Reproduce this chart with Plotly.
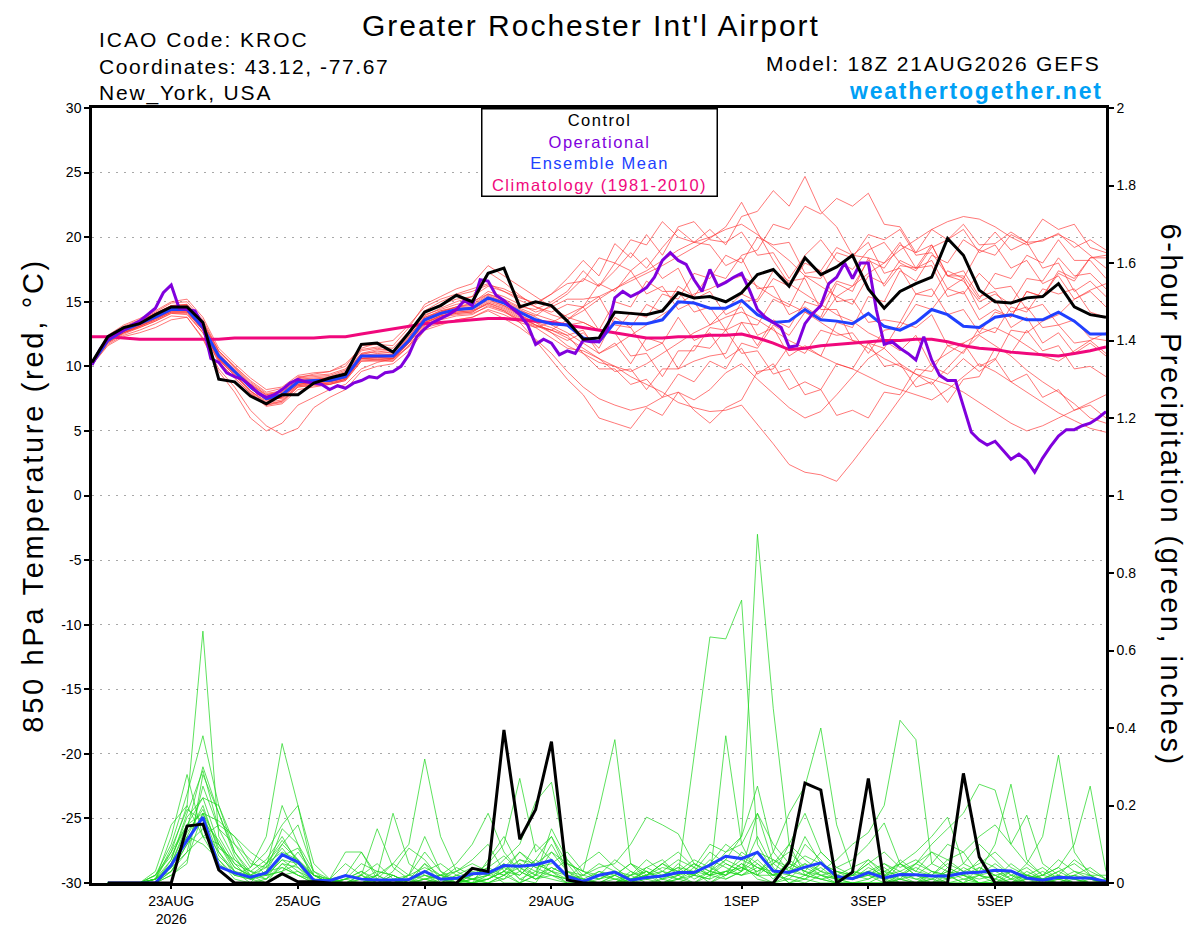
import pandas as pd
import plotly.graph_objects as go

# time axes: GEFS 6-hourly, operational GFS 3-hourly, precip valid at end of each 6h window
times_6h = pd.date_range('2026-08-21 18:00', periods=65, freq='6h')
times_3h = pd.date_range('2026-08-21 18:00', periods=129, freq='3h')
precip_times = times_6h[1:]

tick_dates = ['2026-08-23', '2026-08-25', '2026-08-27', '2026-08-29',
              '2026-09-01', '2026-09-03', '2026-09-05']
tick_labels = ['23AUG<br>2026', '25AUG', '27AUG', '29AUG', '1SEP', '3SEP', '5SEP']
temp_ticks = [30, 25, 20, 15, 10, 5, 0, -5, -10, -15, -20, -25, -30]

control_temp = [10.3, 12.3, 13.0, 13.3, 14.0, 14.6, 14.6, 13.4, 9.0, 8.8,
                7.7, 7.1, 7.8, 7.8, 8.7, 9.1, 9.4, 11.7, 11.8, 11.1,
                12.6, 14.2, 14.7, 15.5, 15.0, 17.2, 17.6, 14.6, 15.0, 14.7,
                13.5, 12.1, 12.2, 14.2, 14.1, 14.0, 14.3, 15.7, 15.3, 15.4,
                15.0, 15.7, 17.1, 17.5, 16.2, 18.4, 17.1, 17.7, 18.6, 16.0,
                14.5, 15.8, 16.4, 16.9, 19.9, 18.6, 15.9, 15.0, 14.9, 15.3,
                15.4, 16.4, 14.6, 14.0, 13.8]

mean_temp = [10.2, 12.0, 12.8, 13.3, 13.8, 14.4, 14.4, 13.0, 10.8, 9.6,
             8.4, 7.5, 7.8, 8.8, 8.9, 8.9, 9.2, 10.8, 10.8, 10.8,
             12.0, 13.6, 14.1, 14.4, 14.5, 15.3, 14.9, 14.2, 13.6, 13.3,
             13.2, 12.2, 11.9, 13.4, 13.3, 13.3, 13.6, 15.0, 14.9, 14.5,
             14.5, 15.1, 14.0, 13.4, 13.5, 14.4, 13.6, 13.5, 13.3, 14.1,
             13.1, 12.8, 13.4, 14.4, 14.0, 13.1, 13.0, 13.8, 14.0, 13.6,
             13.6, 14.2, 13.5, 12.5, 12.5]

oper_temp = [10.1, 11.3, 12.1, 12.5, 12.8, 13.2, 13.5, 14.0, 14.5, 15.7,
             16.3, 14.5, 14.4, 14.3, 13.2, 10.6, 10.3, 9.5, 9.2, 9.0,
             8.5, 7.9, 7.6, 7.8, 8.2, 8.7, 9.0, 8.8, 8.7, 8.6,
             8.2, 8.5, 8.3, 8.7, 8.9, 9.2, 9.1, 9.5, 9.6, 10.0,
             10.9, 12.3, 12.9, 13.4, 13.7, 14.0, 14.4, 15.1, 14.7, 16.7,
             16.6, 15.5, 15.1, 14.5, 14.0, 13.2, 11.7, 12.1, 11.8, 10.9,
             11.2, 11.0, 12.0, 11.9, 11.9, 12.8, 15.3, 15.8, 15.4, 15.7,
             16.1, 16.9, 18.2, 18.8, 18.2, 17.9, 16.7, 15.8, 17.5, 16.2,
             16.5, 16.9, 17.2, 15.9, 14.4, 13.8, 13.4, 13.0, 11.5, 11.6,
             13.3, 14.1, 14.7, 16.4, 16.9, 18.0, 16.8, 18.0, 18.0, 14.4,
             11.7, 11.9, 11.4, 11.0, 10.5, 12.3, 10.5, 9.3, 8.9, 8.9,
             6.9, 4.9, 4.3, 3.9, 4.2, 3.5, 2.8, 3.2, 2.7, 1.8,
             2.9, 3.8, 4.6, 5.1, 5.1, 5.4, 5.6, 6.0, 6.5]

clim_temp = [12.3, 12.3, 12.2, 12.1, 12.1, 12.1, 12.1, 12.1, 12.1, 12.2,
             12.2, 12.2, 12.2, 12.2, 12.2, 12.3, 12.3, 12.5, 12.7, 12.9,
             13.1, 13.3, 13.4, 13.5, 13.6, 13.7, 13.7, 13.6, 13.5, 13.4,
             13.2, 13.0, 12.8, 12.6, 12.4, 12.2, 12.2, 12.3, 12.3, 12.4,
             12.4, 12.5, 12.2, 11.8, 11.3, 11.4, 11.6, 11.7, 11.8, 11.9,
             12.0, 12.0, 12.1, 12.1, 11.9, 11.6, 11.4, 11.3, 11.1, 11.0,
             10.9, 10.8, 11.0, 11.2, 11.5]

ens_temp = [
    [10.4, 12.3, 13.1, 13.6, 14.2, 14.9, 15.0, 13.6, 11.2, 10.0, 8.9, 8.0, 8.3, 9.1, 9.4, 9.6, 10.2, 11.4, 11.8, 12.0,
     13.2, 14.6, 15.2, 15.6, 16.0, 16.4, 15.8, 15.3, 14.9, 15.6, 16.8, 18.2, 17.0, 19.5, 18.4, 20.2, 18.6, 20.8, 21.2, 19.8,
     19.6, 20.4, 18.6, 18.8, 16.8, 18.6, 19.8, 18.2, 17.5, 19.0, 19.6, 18.0, 17.4, 19.2, 19.8, 21.0, 19.4, 19.5, 20.4, 19.6,
     19.7, 20.3, 19.2, 19.8, 19.0],
    [10.1, 11.6, 12.3, 12.6, 13.0, 13.6, 13.8, 12.1, 9.6, 8.0, 6.0, 5.0, 5.6, 7.0, 7.6, 8.2, 8.6, 9.8, 10.3, 10.6,
     11.5, 13.0, 13.3, 13.6, 13.8, 14.3, 13.7, 13.0, 12.1, 11.0, 9.6, 8.4, 7.5, 7.0, 6.6, 6.9, 7.6, 8.0, 7.4, 8.2,
     9.5, 10.2, 9.0, 7.9, 6.8, 6.0, 6.5, 7.8, 9.2, 10.6, 11.4, 10.2, 9.4, 8.6, 9.9, 11.2, 12.4, 11.6, 10.8, 9.7,
     8.8, 8.0, 7.1, 6.0, 5.6],
    [10.3, 12.1, 12.9, 13.4, 14.0, 14.6, 14.7, 13.3, 11.0, 9.7, 8.5, 7.6, 7.5, 8.6, 8.8, 9.0, 9.4, 10.9, 11.2, 11.0,
     12.3, 13.9, 14.5, 15.0, 15.4, 17.3, 16.5, 15.5, 14.6, 14.0, 13.6, 14.3, 15.2, 16.0, 16.6, 17.2, 17.8, 18.5, 19.2, 19.9,
     20.8, 22.7, 20.4, 18.2, 16.4, 15.6, 14.8, 14.0, 13.5, 12.6, 12.0, 11.2, 12.4, 10.0, 9.4, 10.6, 9.6, 10.5, 12.8, 12.6,
     13.5, 14.0, 15.2, 15.9, 16.4],
    [10.2, 11.8, 12.6, 13.1, 13.6, 14.2, 14.2, 12.8, 10.5, 9.3, 8.0, 7.0, 7.3, 8.5, 8.7, 8.6, 9.0, 10.6, 10.5, 10.4,
     11.6, 13.2, 13.8, 14.2, 14.3, 15.0, 14.6, 13.9, 13.4, 13.0, 12.4, 11.0, 10.3, 10.0, 9.2, 8.6, 8.0, 7.2, 6.8, 6.5,
     6.6, 7.0, 5.5, 4.0, 2.4, 1.8, 1.6, 1.1, 2.6, 4.2, 5.8, 7.5, 9.0, 10.2, 11.0, 11.8, 12.5, 13.0, 12.4, 11.6,
     10.8, 10.4, 11.2, 12.0, 12.6],
    [10.3, 12.0, 12.7, 13.2, 13.9, 14.5, 14.6, 13.0, 10.9, 9.8, 8.6, 7.8, 8.0, 9.0, 9.1, 9.2, 9.6, 11.0, 11.3, 11.2,
     12.5, 14.0, 14.4, 14.8, 15.0, 15.6, 15.2, 14.6, 14.4, 15.0, 15.8, 17.4, 16.2, 17.4, 18.8, 17.6, 19.2, 20.6, 19.6, 20.6,
     19.4, 21.6, 22.0, 23.6, 22.4, 24.7, 22.0, 20.8, 18.6, 18.4, 16.2, 17.8, 17.6, 19.4, 17.0, 16.6, 15.0, 15.6, 14.8, 16.8,
     16.6, 18.4, 17.0, 17.2, 16.0],
    [10.2, 12.0, 12.8, 13.3, 13.9, 14.4, 14.5, 13.1, 10.6, 9.4, 8.1, 7.3, 7.6, 8.6, 8.7, 8.8, 9.1, 10.6, 10.7, 10.6,
     11.9, 13.5, 14.0, 14.3, 14.5, 15.2, 14.7, 14.0, 13.2, 12.6, 12.0, 12.6, 11.4, 13.8, 13.0, 14.8, 14.2, 16.2, 15.4, 17.2,
     16.8, 18.6, 19.0, 21.0, 20.6, 22.4, 21.8, 23.0, 22.4, 23.4, 21.0, 20.8, 18.8, 19.4, 17.0, 17.0, 15.2, 17.2, 16.8, 18.6,
     18.0, 19.8, 18.2, 18.2, 16.8],
    [10.1, 11.9, 12.6, 13.0, 13.5, 14.1, 14.0, 12.6, 10.4, 9.1, 7.9, 6.9, 7.1, 8.2, 8.4, 8.6, 8.9, 10.4, 10.5, 10.5,
     11.8, 13.3, 13.9, 14.2, 14.3, 14.8, 14.3, 13.4, 12.0, 10.5, 9.0, 7.8, 6.0, 5.6, 5.2, 6.8, 6.2, 8.0, 6.6, 5.6,
     6.8, 7.4, 9.6, 9.8, 11.6, 11.0, 12.8, 12.4, 12.6, 11.0, 12.8, 13.0, 14.8, 14.4, 16.0, 15.6, 17.2, 16.0, 16.2, 14.4,
     14.8, 13.2, 13.6, 12.2, 12.0],
    [10.4, 12.2, 13.0, 13.5, 14.1, 14.7, 14.8, 13.4, 11.2, 10.0, 8.8, 7.9, 8.1, 9.2, 9.3, 9.4, 9.8, 11.3, 11.5, 11.4,
     12.7, 14.3, 15.0, 15.5, 15.8, 16.3, 16.0, 15.4, 14.8, 15.6, 16.4, 16.6, 18.4, 18.0, 19.8, 19.4, 21.2, 20.0, 19.6, 19.4,
     17.8, 18.4, 16.0, 16.2, 14.0, 14.6, 13.8, 16.4, 15.8, 18.4, 18.0, 19.6, 17.6, 17.8, 15.4, 15.8, 13.6, 14.4, 13.8, 15.8,
     15.4, 17.4, 16.8, 18.4, 18.6],
    [10.2, 11.9, 12.7, 13.1, 13.7, 14.2, 14.2, 12.8, 10.6, 9.4, 8.1, 7.1, 7.3, 8.4, 8.6, 8.7, 9.0, 10.5, 10.5, 10.6,
     11.8, 13.4, 13.8, 14.0, 14.1, 14.6, 14.2, 13.6, 13.1, 12.8, 13.6, 14.6, 12.8, 12.6, 10.8, 11.0, 9.2, 11.2, 11.2, 13.0,
     12.8, 15.0, 15.2, 17.4, 16.6, 16.8, 14.4, 14.4, 12.0, 11.8, 10.0, 10.2, 8.4, 8.8, 7.2, 9.0, 9.2, 11.4, 11.0, 12.8,
     11.2, 11.6, 9.8, 10.0, 9.2],
    [10.3, 12.1, 12.9, 13.5, 14.1, 14.7, 14.7, 13.2, 10.9, 9.6, 8.3, 7.4, 7.6, 8.8, 8.9, 9.0, 9.3, 10.8, 10.9, 10.9,
     12.1, 13.8, 14.2, 14.6, 14.7, 15.5, 15.0, 14.4, 13.8, 13.2, 12.6, 11.8, 11.0, 11.6, 12.4, 13.2, 14.0, 14.8, 15.6, 16.0,
     16.6, 17.0, 16.2, 15.4, 14.8, 14.2, 13.4, 12.6, 12.0, 11.4, 10.6, 10.0, 9.4, 9.0, 8.6, 8.0, 7.2, 6.4, 5.6, 5.0,
     5.4, 6.0, 6.6, 7.2, 7.8],
    [10.2, 12.0, 12.8, 13.3, 13.8, 14.3, 14.3, 12.9, 10.7, 9.5, 8.4, 7.5, 7.8, 8.8, 8.9, 9.0, 9.3, 10.9, 10.8, 10.9,
     12.0, 13.6, 14.2, 14.6, 14.9, 15.8, 15.4, 14.8, 14.2, 14.6, 15.2, 15.2, 15.4, 13.2, 13.0, 11.2, 11.8, 9.8, 10.4, 10.8,
     11.0, 13.4, 13.2, 15.2, 14.6, 17.0, 16.8, 18.8, 18.4, 20.2, 19.8, 20.6, 18.6, 18.8, 17.0, 17.4, 15.4, 15.8, 14.2, 14.6,
     13.0, 13.2, 11.8, 12.0, 11.0],
    [10.1, 11.7, 12.4, 12.8, 13.3, 13.9, 13.8, 12.2, 9.8, 8.4, 6.6, 5.4, 4.7, 5.2, 6.8, 7.6, 8.2, 9.6, 10.0, 10.2,
     11.2, 12.8, 13.2, 13.6, 13.8, 14.4, 14.0, 13.4, 13.0, 13.4, 14.0, 14.6, 15.4, 16.0, 16.8, 17.4, 18.2, 19.0, 19.6, 20.0,
     20.6, 21.0, 20.2, 19.2, 18.2, 17.0, 16.2, 15.4, 16.2, 17.2, 18.0, 19.0, 19.8, 20.6, 21.2, 21.6, 21.4, 20.8, 20.0, 19.4,
     19.8, 20.2, 19.6, 18.6, 17.6],
    [10.4, 12.4, 13.2, 13.7, 14.3, 15.0, 15.2, 13.8, 11.4, 10.2, 9.1, 8.2, 8.4, 9.3, 9.5, 9.6, 10.0, 11.6, 11.7, 11.6,
     13.0, 14.8, 15.4, 16.0, 16.4, 17.8, 17.0, 16.2, 15.4, 14.6, 13.8, 13.4, 12.8, 12.6, 14.2, 13.8, 15.6, 15.2, 17.2, 16.8,
     18.6, 18.0, 20.0, 19.4, 19.6, 17.2, 17.4, 15.0, 15.2, 13.4, 13.6, 13.4, 15.6, 15.4, 17.4, 16.8, 19.0, 18.6, 20.2, 19.6,
     21.4, 20.6, 21.0, 19.2, 18.8],
    [10.2, 11.9, 12.6, 13.1, 13.7, 14.3, 14.3, 12.9, 10.7, 9.5, 8.3, 7.4, 7.6, 8.6, 8.8, 8.8, 9.1, 10.6, 10.7, 10.6,
     11.9, 13.4, 13.9, 14.1, 14.2, 14.9, 14.5, 13.8, 13.2, 12.8, 12.2, 11.4, 10.6, 10.0, 9.6, 10.2, 11.0, 11.8, 12.6, 13.2,
     13.8, 14.2, 13.6, 12.8, 12.0, 11.4, 10.8, 10.2, 9.8, 9.2, 8.6, 8.2, 7.8, 7.4, 8.2, 9.2, 10.2, 9.6, 8.8, 8.0,
     7.2, 6.4, 5.8, 5.2, 4.9],
    [10.3, 12.1, 12.8, 13.3, 13.9, 14.5, 14.4, 13.0, 10.8, 9.6, 8.5, 7.6, 7.9, 8.9, 9.0, 9.1, 9.4, 10.8, 11.0, 10.9,
     12.2, 13.7, 14.3, 14.5, 14.6, 15.4, 15.0, 14.3, 13.9, 14.8, 15.6, 16.8, 16.2, 18.0, 17.4, 18.4, 16.8, 17.6, 15.2, 15.8,
     14.0, 14.6, 12.4, 13.0, 10.8, 11.6, 10.8, 13.4, 13.0, 15.4, 15.0, 17.4, 16.6, 18.6, 18.0, 19.8, 19.0, 20.4, 19.0, 19.6,
     17.6, 18.0, 15.8, 16.6, 15.4],
    [10.2, 11.9, 12.7, 13.2, 13.7, 14.3, 14.3, 12.9, 10.6, 9.5, 8.3, 7.4, 7.7, 8.7, 8.8, 8.8, 9.1, 10.7, 10.7, 10.7,
     11.9, 13.5, 14.0, 14.3, 14.4, 15.1, 14.7, 14.0, 13.4, 12.6, 11.6, 11.0, 9.8, 9.8, 8.6, 9.0, 7.6, 9.4, 8.8, 10.4,
     9.8, 11.8, 11.4, 13.2, 12.4, 14.2, 13.6, 15.4, 14.8, 17.0, 16.4, 18.2, 17.6, 18.2, 16.0, 16.8, 14.4, 15.2, 13.0, 13.8,
     11.8, 12.6, 11.0, 11.8, 10.8],
    [10.3, 12.0, 12.8, 13.4, 13.9, 14.5, 14.6, 13.1, 10.9, 9.7, 8.6, 7.7, 8.0, 9.0, 9.0, 9.1, 9.5, 11.0, 11.1, 11.1,
     12.3, 13.8, 14.3, 14.6, 14.8, 15.6, 15.1, 14.5, 14.0, 13.6, 13.2, 13.4, 12.8, 15.0, 14.6, 16.6, 15.8, 15.8, 14.2, 14.6,
     12.8, 13.4, 11.6, 13.6, 13.0, 15.0, 14.6, 16.6, 16.2, 18.2, 17.6, 19.4, 18.8, 20.6, 19.8, 20.6, 18.8, 19.4, 17.6, 18.2,
     16.4, 17.0, 15.2, 15.8, 14.6],
    [10.2, 11.8, 12.5, 13.0, 13.5, 14.1, 14.1, 12.6, 10.3, 9.1, 7.9, 7.0, 7.2, 8.4, 8.5, 8.6, 8.9, 10.4, 10.4, 10.4,
     11.6, 13.1, 13.6, 13.9, 14.0, 14.7, 14.3, 13.6, 13.0, 12.2, 11.4, 11.2, 10.6, 9.6, 9.8, 8.2, 9.8, 9.8, 11.6, 11.4,
     12.8, 11.0, 11.2, 9.4, 9.8, 7.8, 8.2, 6.2, 6.6, 6.0, 8.0, 7.8, 9.8, 9.6, 11.6, 11.0, 13.0, 12.6, 14.6, 14.2,
     16.0, 15.6, 16.0, 14.2, 13.8],
    [10.4, 12.2, 13.0, 13.5, 14.1, 14.7, 14.8, 13.4, 11.1, 9.9, 8.7, 7.8, 8.1, 9.1, 9.2, 9.3, 9.7, 11.2, 11.4, 11.2,
     12.6, 14.2, 14.8, 15.2, 15.4, 16.2, 15.8, 15.1, 14.6, 14.2, 14.8, 14.6, 16.4, 15.8, 17.4, 15.6, 16.2, 14.4, 15.0, 13.2,
     14.4, 15.6, 15.0, 16.8, 16.2, 18.0, 17.4, 19.2, 18.6, 19.6, 17.2, 17.6, 15.6, 16.0, 14.0, 14.4, 12.6, 14.2, 13.8, 15.8,
     15.4, 17.2, 16.6, 18.4, 18.4],
    [10.2, 11.9, 12.6, 13.1, 13.6, 14.2, 14.2, 12.8, 10.5, 9.3, 8.1, 7.2, 7.4, 8.5, 8.6, 8.7, 9.0, 10.6, 10.6, 10.6,
     11.8, 13.4, 13.9, 14.1, 14.2, 14.9, 14.4, 13.7, 13.2, 12.8, 12.4, 12.8, 11.0, 11.8, 10.2, 12.2, 11.8, 13.8, 12.0, 12.6,
     10.6, 11.4, 9.4, 10.2, 8.2, 8.8, 8.2, 10.2, 9.8, 11.8, 11.4, 13.4, 13.0, 14.0, 11.6, 11.8, 10.0, 10.6, 8.8, 9.4,
     7.6, 8.2, 6.6, 7.0, 6.0],
]

control_precip = [0, 0, 0, 0, 0, 0.147, 0.152, 0.034,
                  0, 0, 0, 0.024, 0.003, 0.003, 0, 0,
                  0, 0, 0, 0, 0, 0, 0, 0.038,
                  0.03, 0.395, 0.113, 0.19, 0.365, 0.008, 0, 0,
                  0, 0, 0, 0, 0, 0, 0, 0,
                  0, 0, 0, 0.054, 0.258, 0.24, 0, 0.028,
                  0.27, 0, 0, 0, 0, 0, 0.283, 0.067,
                  0, 0, 0, 0, 0, 0, 0, 0]

mean_precip = [0, 0, 0, 0, 0.046, 0.11, 0.17, 0.042,
               0.026, 0.015, 0.026, 0.073, 0.054, 0.007, 0.006, 0.019,
               0.01, 0.008, 0.008, 0.009, 0.03, 0.01, 0.012, 0.024,
               0.026, 0.045, 0.043, 0.047, 0.058, 0.017, 0.004, 0.02,
               0.028, 0.007, 0.014, 0.018, 0.027, 0.027, 0.046, 0.069,
               0.063, 0.079, 0.031, 0.027, 0.041, 0.052, 0.017, 0.011,
               0.027, 0.013, 0.022, 0.021, 0.018, 0.018, 0.026, 0.028,
               0.033, 0.031, 0.013, 0.007, 0.015, 0.013, 0.013, 0.004]

ens_precip = [
    [0, 0, 0, 0.01, 0.08, 0.2, 0.65, 0.12, 0.05, 0.01, 0, 0.02, 0.03, 0, 0, 0,
     0, 0, 0.02, 0, 0.01, 0, 0, 0.03, 0.02, 0.05, 0.01, 0, 0.06, 0.02, 0, 0,
     0, 0.01, 0.03, 0, 0, 0.02, 0.05, 0.01, 0.03, 0.12, 0.04, 0, 0.02, 0.01, 0, 0,
     0.01, 0.03, 0, 0, 0.02, 0, 0, 0.04, 0.02, 0, 0, 0, 0.01, 0, 0, 0],
    [0, 0, 0, 0.02, 0.1, 0.23, 0.38, 0.2, 0.1, 0.04, 0.12, 0.36, 0.2, 0.02, 0, 0.01,
     0, 0, 0, 0, 0, 0.02, 0.01, 0, 0, 0.02, 0, 0.05, 0.03, 0, 0, 0.01,
     0.02, 0, 0, 0.01, 0, 0, 0.03, 0.08, 0.1, 0.02, 0, 0.01, 0, 0.02, 0, 0,
     0, 0, 0.05, 0.02, 0, 0, 0.01, 0, 0, 0.03, 0, 0, 0, 0.02, 0.01, 0],
    [0, 0, 0, 0, 0.06, 0.18, 0.29, 0.14, 0.06, 0.02, 0, 0.05, 0.04, 0, 0, 0,
     0.02, 0, 0, 0, 0, 0, 0, 0.01, 0.03, 0, 0, 0.02, 0.01, 0, 0, 0,
     0, 0, 0.02, 0.05, 0.02, 0.33, 0.635, 0.63, 0.73, 0.1, 0.03, 0, 0.01, 0, 0, 0,
     0, 0.02, 0, 0, 0.01, 0, 0, 0.02, 0, 0, 0, 0.01, 0, 0, 0, 0],
    [0, 0, 0, 0.01, 0.05, 0.15, 0.22, 0.1, 0.03, 0, 0.05, 0.08, 0.06, 0.01, 0, 0.02,
     0.08, 0.02, 0, 0, 0.03, 0.01, 0, 0, 0.01, 0.03, 0.08, 0.04, 0.02, 0, 0, 0,
     0, 0.02, 0, 0, 0.01, 0.04, 0.1, 0.08, 0.12, 0.9, 0.45, 0.1, 0.02, 0.04, 0.01, 0,
     0, 0, 0.01, 0, 0, 0.02, 0, 0, 0, 0, 0.01, 0, 0, 0, 0, 0],
    [0, 0, 0, 0.01, 0.04, 0.12, 0.2, 0.08, 0.02, 0.01, 0.03, 0.1, 0.15, 0.03, 0.01, 0,
     0, 0.01, 0.05, 0.1, 0.32, 0.12, 0.03, 0.01, 0, 0.02, 0.04, 0.01, 0.03, 0.06, 0.01, 0,
     0.01, 0, 0.04, 0.06, 0.02, 0, 0, 0.03, 0.02, 0.05, 0.01, 0.06, 0.03, 0.01, 0, 0.02,
     0.05, 0.01, 0, 0, 0, 0.01, 0.03, 0, 0, 0.01, 0, 0, 0.02, 0, 0, 0],
    [0, 0, 0, 0, 0.03, 0.1, 0.18, 0.16, 0.12, 0.05, 0.04, 0.2, 0.1, 0, 0, 0,
     0, 0, 0.02, 0, 0, 0.01, 0.04, 0.02, 0.05, 0.1, 0.27, 0.08, 0.12, 0.05, 0.03, 0.19,
     0.37, 0.05, 0.02, 0, 0.01, 0.03, 0, 0.02, 0.05, 0.01, 0, 0.02, 0.1, 0.06, 0.01, 0,
     0, 0, 0.02, 0.01, 0, 0.04, 0.02, 0, 0, 0, 0.02, 0.01, 0, 0, 0, 0],
    [0, 0, 0, 0.02, 0.08, 0.15, 0.15, 0.06, 0.01, 0, 0.01, 0.04, 0.02, 0, 0, 0.01,
     0.03, 0, 0, 0, 0.05, 0, 0, 0, 0.02, 0.06, 0.1, 0.21, 0.26, 0.05, 0, 0,
     0.02, 0.05, 0.01, 0.02, 0.04, 0.01, 0.03, 0.06, 0.04, 0.02, 0.08, 0.18, 0.25, 0.4, 0.15, 0.03,
     0.02, 0, 0.01, 0, 0.03, 0.02, 0, 0, 0, 0.02, 0, 0, 0, 0, 0.01, 0],
    [0, 0, 0, 0.01, 0.12, 0.28, 0.12, 0.05, 0.02, 0.01, 0.02, 0.06, 0.03, 0.01, 0, 0,
     0, 0.02, 0, 0.01, 0, 0, 0.02, 0.01, 0.01, 0.03, 0, 0.02, 0.04, 0.02, 0, 0.03,
     0.01, 0.02, 0.06, 0.03, 0.01, 0, 0.02, 0.05, 0.03, 0.06, 0.02, 0.01, 0.05, 0.03, 0.06, 0.1,
     0.13, 0.2, 0.42, 0.37, 0.05, 0.1, 0.08, 0.02, 0.01, 0, 0.03, 0.01, 0, 0.01, 0, 0],
    [0, 0, 0, 0.03, 0.15, 0.2, 0.12, 0.1, 0.05, 0.03, 0.06, 0.12, 0.05, 0, 0.01, 0.02,
     0.01, 0, 0, 0.02, 0.12, 0.03, 0, 0.02, 0.04, 0.02, 0.05, 0.03, 0.1, 0.03, 0, 0,
     0, 0.02, 0.03, 0.01, 0.05, 0.02, 0.01, 0.38, 0.1, 0.18, 0.05, 0.02, 0.01, 0.03, 0.02, 0.01,
     0.03, 0.05, 0.02, 0, 0.01, 0.03, 0.02, 0.06, 0.04, 0.01, 0.05, 0.12, 0.33, 0.08, 0.02, 0],
    [0, 0, 0, 0, 0.05, 0.14, 0.3, 0.18, 0.08, 0.02, 0.01, 0.05, 0.02, 0, 0, 0,
     0, 0.02, 0.18, 0.05, 0.02, 0, 0.01, 0, 0.01, 0.04, 0.02, 0.06, 0.03, 0.01, 0.02, 0.05,
     0.03, 0.01, 0.02, 0.04, 0.03, 0.02, 0.01, 0.03, 0.02, 0.04, 0.03, 0.02, 0.01, 0.05, 0.02, 0.01,
     0.04, 0.02, 0.01, 0.05, 0.1, 0.14, 0.18, 0.255, 0.24, 0.1, 0.05, 0.02, 0.04, 0.1, 0.25, 0.03],
    [0, 0, 0, 0.01, 0.04, 0.08, 0.25, 0.14, 0.1, 0.06, 0.02, 0.03, 0.08, 0.02, 0, 0.01,
     0.02, 0.14, 0.04, 0.01, 0.02, 0.01, 0, 0.01, 0.02, 0.01, 0.03, 0.01, 0.02, 0.01, 0, 0,
     0, 0.01, 0.02, 0.05, 0.03, 0.06, 0.04, 0.02, 0.05, 0.03, 0.06, 0.04, 0.02, 0.05, 0.03, 0.02,
     0.06, 0.03, 0.05, 0.08, 0.12, 0.17, 0.05, 0.03, 0.1, 0.255, 0.06, 0.02, 0.01, 0, 0, 0],
    [0, 0, 0, 0, 0.02, 0.06, 0.18, 0.1, 0.04, 0.02, 0.02, 0.06, 0.05, 0.02, 0.01, 0.08,
     0.08, 0.01, 0, 0.02, 0.04, 0.02, 0.05, 0.1, 0.18, 0.08, 0.03, 0.01, 0.04, 0.02, 0.01, 0,
     0.02, 0, 0.01, 0.03, 0.02, 0.05, 0.03, 0.02, 0.04, 0.02, 0.05, 0.1, 0.18, 0.08, 0.04, 0.06,
     0.1, 0.155, 0.05, 0.02, 0.01, 0.03, 0.02, 0, 0.01, 0.03, 0.02, 0, 0.01, 0.02, 0, 0],
    [0, 0, 0, 0.01, 0.03, 0.1, 0.14, 0.08, 0.03, 0.01, 0.03, 0.04, 0.02, 0.01, 0, 0,
     0.01, 0.03, 0.02, 0, 0.01, 0.02, 0.03, 0.05, 0.03, 0.02, 0.06, 0.05, 0.08, 0.03, 0.02, 0.04,
     0.05, 0.1, 0.17, 0.15, 0.127, 0.05, 0.02, 0.03, 0.06, 0.04, 0.02, 0.03, 0.05, 0.02, 0.01, 0.02,
     0.03, 0.01, 0.02, 0.04, 0.02, 0.06, 0.08, 0.12, 0.15, 0.1, 0.175, 0.05, 0.02, 0.01, 0.02, 0],
    [0, 0, 0, 0, 0.05, 0.12, 0.1, 0.06, 0.02, 0.04, 0.08, 0.15, 0.2, 0.05, 0.01, 0,
     0, 0.01, 0, 0.01, 0.03, 0.05, 0.02, 0.01, 0, 0.01, 0.05, 0.02, 0.14, 0.06, 0.02, 0.01,
     0.03, 0.02, 0.04, 0.02, 0.01, 0.02, 0.05, 0.1, 0.07, 0.04, 0.02, 0.05, 0.03, 0.02, 0.03, 0.01,
     0.02, 0.05, 0.03, 0.01, 0.02, 0.01, 0.04, 0.02, 0.01, 0.05, 0.02, 0.01, 0.03, 0.01, 0, 0.01],
    [0, 0, 0, 0.01, 0.06, 0.17, 0.22, 0.2, 0.08, 0.03, 0.02, 0.03, 0.05, 0.01, 0.01, 0.05,
     0.02, 0, 0.01, 0.02, 0.08, 0.03, 0.01, 0, 0.06, 0.12, 0.04, 0.02, 0.08, 0.05, 0.03, 0.02,
     0.06, 0.03, 0.01, 0.02, 0.04, 0.03, 0.08, 0.05, 0.03, 0.08, 0.06, 0.03, 0.12, 0.05, 0.02, 0.01,
     0.02, 0.04, 0.01, 0.02, 0.05, 0.03, 0.01, 0.02, 0.03, 0.01, 0.02, 0.04, 0.01, 0.03, 0.02, 0],
    [0, 0, 0, 0, 0.03, 0.08, 0.12, 0.15, 0.12, 0.08, 0.05, 0.1, 0.06, 0.02, 0, 0,
     0.01, 0.02, 0.05, 0.02, 0.01, 0, 0.02, 0.04, 0.02, 0.05, 0.01, 0.03, 0.02, 0.01, 0.05, 0.08,
     0.04, 0.01, 0.03, 0.01, 0.02, 0.03, 0.02, 0.06, 0.12, 0.25, 0.08, 0.03, 0.02, 0.01, 0.02, 0.04,
     0.06, 0.02, 0.03, 0.05, 0.08, 0.04, 0.02, 0.01, 0.02, 0, 0.01, 0.02, 0.06, 0.03, 0.01, 0],
    [0, 0, 0, 0.02, 0.07, 0.15, 0.18, 0.07, 0.03, 0.02, 0.04, 0.09, 0.04, 0.01, 0, 0.01,
     0.05, 0.03, 0.02, 0, 0.01, 0.02, 0, 0.02, 0.04, 0.07, 0.03, 0.1, 0.06, 0.01, 0, 0.02,
     0.01, 0, 0.02, 0.03, 0.06, 0.04, 0.02, 0.01, 0.03, 0.18, 0.1, 0.05, 0.03, 0.08, 0.04, 0.02,
     0.05, 0.08, 0.04, 0.06, 0.03, 0.02, 0.05, 0.1, 0.06, 0.02, 0.01, 0.03, 0.01, 0.02, 0.04, 0.01],
    [0, 0, 0, 0, 0.04, 0.13, 0.19, 0.09, 0.06, 0.03, 0.01, 0.07, 0.09, 0.02, 0.01, 0,
     0.02, 0.05, 0.01, 0, 0.02, 0.01, 0.03, 0.06, 0.1, 0.03, 0.02, 0.06, 0.12, 0.03, 0.01, 0,
     0, 0.03, 0.01, 0, 0.02, 0.05, 0.03, 0.02, 0.08, 0.05, 0.02, 0.1, 0.06, 0.03, 0.01, 0.03,
     0.02, 0.01, 0.06, 0.03, 0.02, 0.05, 0.03, 0.02, 0.05, 0.02, 0.04, 0.01, 0.02, 0.06, 0.03, 0.01],
    [0, 0, 0, 0.01, 0.09, 0.19, 0.16, 0.11, 0.04, 0.02, 0.05, 0.11, 0.06, 0.02, 0, 0,
     0, 0, 0.03, 0.09, 0.06, 0.01, 0, 0.01, 0.02, 0.04, 0.08, 0.05, 0.03, 0.02, 0.01, 0.03,
     0.02, 0.05, 0.03, 0.01, 0.03, 0.02, 0.06, 0.04, 0.02, 0.03, 0.05, 0.08, 0.04, 0.02, 0.01, 0.01,
     0.03, 0.02, 0.05, 0.03, 0.08, 0.06, 0.03, 0.05, 0.08, 0.04, 0.02, 0.01, 0.03, 0.05, 0.02, 0.02],
    [0, 0, 0, 0, 0.02, 0.05, 0.28, 0.18, 0.07, 0.01, 0.03, 0.14, 0.1, 0.03, 0, 0.01,
     0.03, 0.01, 0, 0.01, 0.05, 0.02, 0.01, 0, 0.01, 0.03, 0.06, 0.04, 0.05, 0.08, 0.03, 0.01,
     0.03, 0.01, 0.02, 0.05, 0.08, 0.04, 0.02, 0.03, 0.04, 0.02, 0.02, 0.04, 0.07, 0.05, 0.03, 0.02,
     0.01, 0.03, 0.02, 0.05, 0.03, 0.01, 0.02, 0.04, 0.02, 0.03, 0.01, 0.02, 0.04, 0.01, 0, 0],
]

FONT = 'Liberation Sans, Arial, sans-serif'
RED = 'rgba(255,55,55,0.85)'
GREEN = 'rgba(30,215,30,0.9)'
BLACK = '#000000'
PURPLE = '#8000dd'
BLUE = '#2040ff'
PINK = '#f0087c'


def spaced(text, px):
    return f"<span style='letter-spacing:{px}px'>{text}</span>"


fig = go.Figure()

for member in ens_temp:
    fig.add_trace(go.Scatter(x=times_6h, y=member, mode='lines',
                             line=dict(color=RED, width=0.8), yaxis='y'))
for member in ens_precip:
    fig.add_trace(go.Scatter(x=precip_times, y=member, mode='lines',
                             line=dict(color=GREEN, width=0.8), yaxis='y2'))

fig.add_trace(go.Scatter(x=times_6h, y=clim_temp, mode='lines',
                         line=dict(color=PINK, width=3)))
fig.add_trace(go.Scatter(x=times_6h, y=mean_temp, mode='lines',
                         line=dict(color=BLUE, width=3)))
fig.add_trace(go.Scatter(x=times_3h, y=oper_temp, mode='lines',
                         line=dict(color=PURPLE, width=3)))
fig.add_trace(go.Scatter(x=times_6h, y=control_temp, mode='lines',
                         line=dict(color=BLACK, width=3)))
fig.add_trace(go.Scatter(x=precip_times, y=mean_precip, mode='lines',
                         line=dict(color=BLUE, width=3), yaxis='y2'))
fig.add_trace(go.Scatter(x=precip_times, y=control_precip, mode='lines',
                         line=dict(color=BLACK, width=3), yaxis='y2'))

axis_common = dict(showline=True, linecolor='black', linewidth=2.5,
                   ticks='outside', ticklen=5, tickwidth=1.5, tickcolor='black',
                   tickfont=dict(family=FONT, size=14, color='black'),
                   zeroline=False, automargin=False)

# the page body adds an 8px offset at top-left, so margins are shifted by 8px
fig.update_layout(
    width=1192, height=919,
    margin=dict(l=84, r=94, t=100, b=44),
    paper_bgcolor='white', plot_bgcolor='white',
    showlegend=False,
    font=dict(family=FONT, color='black'),
    xaxis=dict(**axis_common, mirror=True, showgrid=False,
               type='date', range=['2026-08-21 18:00', '2026-09-06 18:00'],
               tickvals=tick_dates, ticktext=tick_labels),
    yaxis=dict(**axis_common, range=[-30, 30], showgrid=True,
               tickvals=temp_ticks, ticktext=[str(v) for v in temp_ticks],
               gridcolor='#a8a8a8', gridwidth=1.2, griddash='2px,6px'),
    yaxis2=dict(**axis_common, overlaying='y', side='right', range=[0, 2],
                dtick=0.2, showgrid=False),
)
fig.update_xaxes(ticklen=3)

legend_text = "<br>".join([
    f"<span style='color:#000000;letter-spacing:1.5px'>Control</span>",
    f"<span style='color:{PURPLE};letter-spacing:1.5px'>Operational</span>",
    f"<span style='color:{BLUE};letter-spacing:1.5px'>Ensemble Mean</span>",
    f"<span style='color:{PINK};letter-spacing:1.5px'>Climatology (1981-2010)</span>",
])

annotations = [
    dict(text=spaced("Greater Rochester Int'l Airport", 2.0), x=0.492, y=1.107,
         font=dict(size=30)),
    dict(text=spaced('ICAO Code: KROC', 2), x=0.005, y=1.088, xanchor='left', font=dict(size=21)),
    dict(text=spaced('Coordinates: 43.12, -77.67', 1.6), x=0.005, y=1.054, xanchor='left', font=dict(size=21)),
    dict(text=spaced('New_York, USA', 1.8), x=0.005, y=1.019, xanchor='left', font=dict(size=21)),
    dict(text=spaced('Model: 18Z 21AUG2026 GEFS', 1.8), x=0.996, y=1.058, xanchor='right', font=dict(size=21)),
    dict(text='<b>' + spaced('weathertogether.net', 1.8) + '</b>', x=0.999, y=1.022, xanchor='right',
         font=dict(size=23, color='#00a0f5')),
    dict(text=spaced('850 hPa Temperature (red, °C)', 2.7), x=-0.059, y=0.5, textangle=-90,
         font=dict(size=29)),
    dict(text=spaced('6-hour Precipitation (green, inches)', 2.5), x=1.065, y=0.5, textangle=90,
         font=dict(size=29)),
    dict(text=legend_text, x=0.5, y=1.0, yanchor='top', align='center',
         width=232, height=84, bgcolor='white', bordercolor='black',
         borderwidth=1.5, borderpad=1, font=dict(size=16.5)),
]
for a in annotations:
    a.setdefault('xref', 'paper')
    a.setdefault('yref', 'paper')
    a.setdefault('showarrow', False)
    a.setdefault('xanchor', 'center')
    a.setdefault('yanchor', 'middle')
    a['font'] = dict(family=FONT, color=a['font'].get('color', 'black'), size=a['font']['size'])
    fig.add_annotation(**a)

fig.write_html('out.html')
